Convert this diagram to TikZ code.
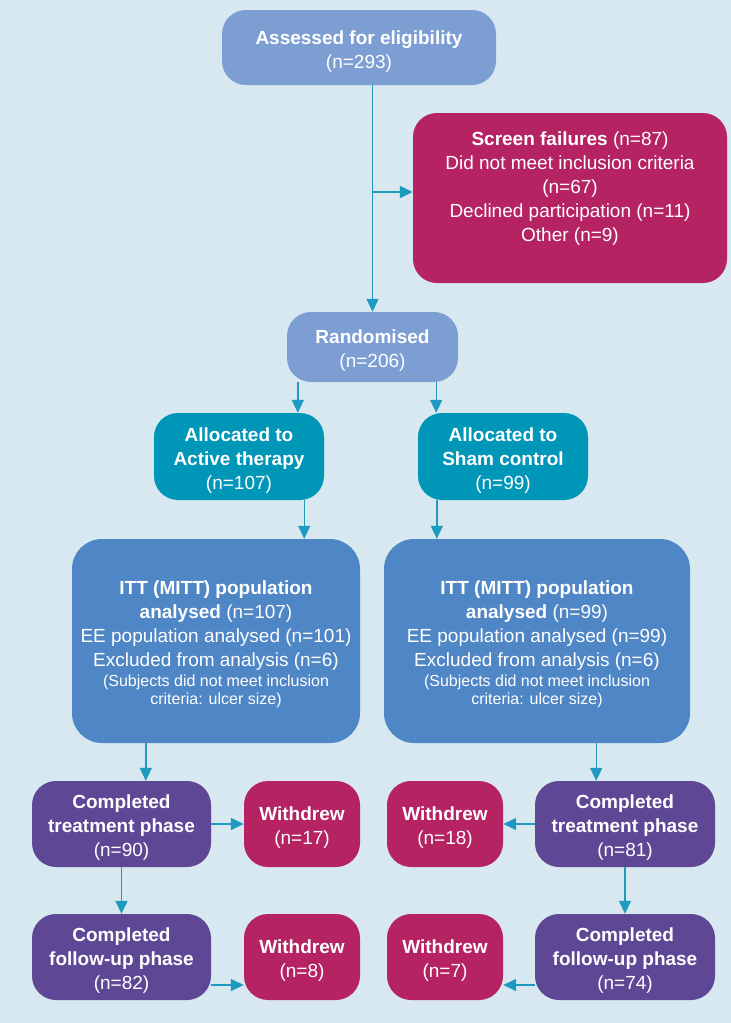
\documentclass[tikz,border=0pt]{standalone}
\usepackage{fontspec}
\setmainfont{Liberation Sans}
\usetikzlibrary{arrows.meta,positioning,calc}
\definecolor{bgblue}{HTML}{D7E8F0}
\definecolor{liteblue}{HTML}{7C9ED3}
\definecolor{midblue}{HTML}{4F86C6}
\definecolor{tealbox}{HTML}{0096B8}
\definecolor{magbox}{HTML}{B52363}
\definecolor{purplebox}{HTML}{5E4794}
\definecolor{arrowblue}{HTML}{1E9AC0}
\newcommand{\smalltxt}{\fontsize{16}{18}\selectfont}
\newcommand{\topgap}{\rule{0pt}{21pt}}
\begin{document}
\begin{tikzpicture}[x=1pt,y=-1pt,>={Triangle[length=13pt,width=12pt]},font=\fontsize{19}{24}\selectfont,
box/.style={rounded corners=24pt,text=white,align=center,inner sep=0pt},
lite/.style={box,fill=liteblue},mid/.style={box,fill=midblue,rounded corners=30pt},
alloc/.style={box,fill=tealbox},mag/.style={box,fill=magbox},purp/.style={box,fill=purplebox},
arr/.style={->,draw=arrowblue,line width=1.4pt}]
\fill[bgblue] (0,0) rectangle (731,1023);
\useasboundingbox (0,0) rectangle (731,1023);
% enrolment
\node[lite,minimum width=274pt,minimum height=75pt] (assess) at (359,47.5) {\topgap\textbf{Assessed for eligibility}\\(n=293)};
\node[mag,minimum width=314pt,minimum height=170pt] (sf) at (570,198) {\topgap\textbf{Screen failures} (n=87)\\Did not meet inclusion criteria\\(n=67)\\Declined participation (n=11)\\Other (n=9)\\[7pt]\mbox{}};
\node[lite,minimum width=171pt,minimum height=70pt] (rand) at (372.5,347) {\topgap\textbf{Randomised}\\(n=206)};
% allocation
\node[alloc,minimum width=170pt,minimum height=87pt] (act) at (239,456.5) {\topgap\textbf{Allocated to}\\\textbf{Active therapy}\\(n=107)};
\node[alloc,minimum width=170pt,minimum height=87pt] (sham) at (503,456.5) {\topgap\textbf{Allocated to}\\\textbf{Sham control}\\(n=99)};
% analysis
\node[mid,minimum width=288pt,minimum height=204pt] (ittL) at (216,641) {\topgap\textbf{ITT (MITT) population}\\\textbf{analysed} (n=107)\\EE population analysed (n=101)\\Excluded from analysis (n=6)\\[-4pt]{\smalltxt(Subjects did not meet inclusion}\\[-6pt]{\smalltxt criteria: ulcer size)}};
\node[mid,minimum width=306pt,minimum height=204pt] (ittR) at (537,641) {\topgap\textbf{ITT (MITT) population}\\\textbf{analysed} (n=99)\\EE population analysed (n=99)\\Excluded from analysis (n=6)\\[-4pt]{\smalltxt(Subjects did not meet inclusion}\\[-6pt]{\smalltxt criteria: ulcer size)}};
% follow-up
\node[purp,minimum width=179pt,minimum height=86pt] (compL) at (121.5,824) {\topgap\textbf{Completed}\\\textbf{treatment phase}\\(n=90)};
\node[mag,minimum width=116pt,minimum height=86pt] (wdL1) at (302,824) {\topgap\textbf{Withdrew}\\(n=17)};
\node[mag,minimum width=116pt,minimum height=86pt] (wdR1) at (445,824) {\topgap\textbf{Withdrew}\\(n=18)};
\node[purp,minimum width=180pt,minimum height=86pt] (compR) at (625,824) {\topgap\textbf{Completed}\\\textbf{treatment phase}\\(n=81)};
\node[purp,minimum width=179pt,minimum height=86pt] (fuL) at (121.5,957) {\topgap\textbf{Completed}\\\textbf{follow-up phase}\\(n=82)};
\node[mag,minimum width=116pt,minimum height=86pt] (wdL2) at (302,957) {\topgap\textbf{Withdrew}\\(n=8)};
\node[mag,minimum width=116pt,minimum height=86pt] (wdR2) at (445,957) {\topgap\textbf{Withdrew}\\(n=7)};
\node[purp,minimum width=180pt,minimum height=86pt] (fuR) at (625,957) {\topgap\textbf{Completed}\\\textbf{follow-up phase}\\(n=74)};
% connectors
\draw[arr] (assess.south -| rand.north) -- (rand.north);
\draw[arr] ([yshift=6pt]sf.west -| rand.north) -- ([yshift=6pt]sf.west);
\draw[arr] ([xshift=11pt]rand.south west) -- ([xshift=11pt]rand.south west |- act.north);
\draw[arr] ([xshift=-22pt]rand.south east) -- ([xshift=-22pt]rand.south east |- sham.north);
\draw[arr] ([xshift=-20pt]act.south east) -- ([xshift=-20pt]act.south east |- ittL.north);
\draw[arr] ([xshift=19pt]sham.south west) -- ([xshift=19pt]sham.south west |- ittR.north);
\draw[arr] ([xshift=74pt]ittL.south west) -- ([xshift=74pt]ittL.south west |- compL.north);
\draw[arr] ([xshift=-94pt]ittR.south east) -- ([xshift=-94pt]ittR.south east |- compR.north);
\draw[arr] (compL) -- (wdL1);
\draw[arr] (compL) -- (fuL);
\draw[arr] ([yshift=-28pt]fuL.east) -- ([yshift=-28pt]wdL2.west);
\draw[arr] (compR) -- (wdR1);
\draw[arr] (compR) -- (fuR);
\draw[arr] ([yshift=-28pt]fuR.west) -- ([yshift=-28pt]wdR2.east);
\end{tikzpicture}
\end{document}
